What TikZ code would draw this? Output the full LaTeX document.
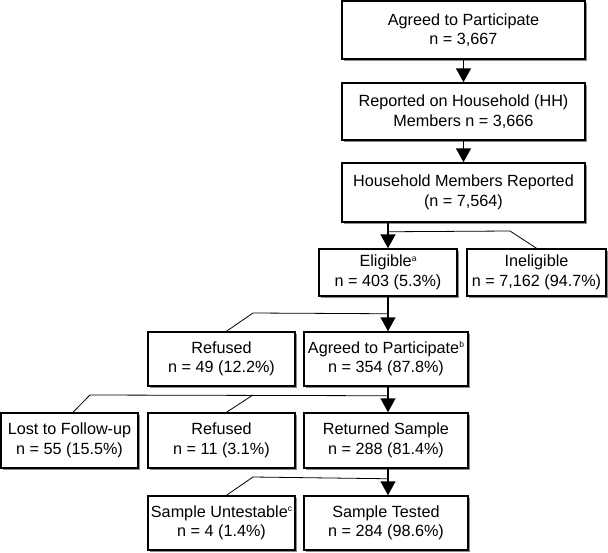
\documentclass[tikz,border=0pt]{standalone}
\usepackage{fontspec}
\setmainfont{Liberation Sans}
\usetikzlibrary{arrows.meta,shadows,calc}
\newcommand{\supx}[1]{\raisebox{5.5pt}{\fontsize{8.5}{8.5}\selectfont #1}}
\begin{document}
\begin{tikzpicture}[x=1pt,y=-1pt,
  box/.style={draw=black, line width=1.5pt, fill=white, inner sep=0pt, align=center,
    font=\fontsize{16.2}{19.5}\selectfont,
    drop shadow={shadow xshift=1.6pt, shadow yshift=-1.6pt, fill=black!45, opacity=1}},
  conn/.style={line width=0.8pt, draw=black},
  stem/.style={line width=1.5pt, draw=black},
  arr/.style={stem, -{Triangle[width=15pt,length=14pt]}}]
\useasboundingbox (0,0) rectangle (608,552);
\node[box, minimum width=243, minimum height=58] (b1) at (463.5,30) {Agreed to Participate\\n = 3,667};
\node[box, minimum width=243, minimum height=57] (b2) at (463.5,111.5) {Reported on Household (HH)\\Members n = 3,666};
\node[box, minimum width=243, minimum height=59] (b3) at (463.5,192.5) {Household Members Reported\\(n = 7,564)};
\node[box, minimum width=138, minimum height=47] (elig) at (388,272.5) {Eligible\supx{a}\\n = 403 (5.3\%)};
\node[box, minimum width=139, minimum height=47] (inel) at (536.5,272.5) {Ineligible\\n = 7,162 (94.7\%)};
\node[box, minimum width=147, minimum height=54] (ref1) at (221.5,359) {Refused\\n = 49 (12.2\%)};
\node[box, minimum width=164, minimum height=54] (agr) at (386,359) {Agreed to Participate\supx{b}\\n = 354 (87.8\%)};
\node[box, minimum width=137, minimum height=55] (lost) at (69.5,440.5) {Lost to Follow-up\\n = 55 (15.5\%)};
\node[box, minimum width=147, minimum height=55] (ref2) at (221.5,440.5) {Refused\\n = 11 (3.1\%)};
\node[box, minimum width=164, minimum height=55] (ret) at (386,440.5) {Returned Sample\\n = 288 (81.4\%)};
\node[box, minimum width=147, minimum height=54] (unt) at (221.5,523) {Sample Untestable\supx{c}\\n = 4 (1.4\%)};
\node[box, minimum width=164, minimum height=54] (tst) at (386,523) {Sample Tested\\n = 284 (98.6\%)};
\coordinate (sp) at (388,0);
% branch lines
\draw[conn] (sp |- b3.south) ++(0,9) -- (510,231) -- (inel.north);
\draw[conn] (sp |- elig.south) ++(0,17) -- (253,313) -- ([xshift=5pt]ref1.north);
\draw[conn] (sp |- agr.south) ++(0,9) -- (90,395) -- ([xshift=3.5pt]lost.north);
\draw[conn] (253,395) -- ([xshift=5pt]ref2.north);
\draw[conn] (sp |- ret.south) ++(0,10) -- (253,477) -- ([xshift=5pt]unt.north);
% main chain
\draw[arr] (b1.south) -- (b2.north);
\draw[arr] (b2.south) -- (b3.north);
\draw[arr] (sp |- b3.south) -- (elig.north);
\draw[arr] (elig.south) -- (sp |- agr.north);
\draw[arr] (sp |- agr.south) -- (sp |- ret.north);
\draw[arr] (sp |- ret.south) -- (sp |- tst.north);
\end{tikzpicture}
\end{document}
